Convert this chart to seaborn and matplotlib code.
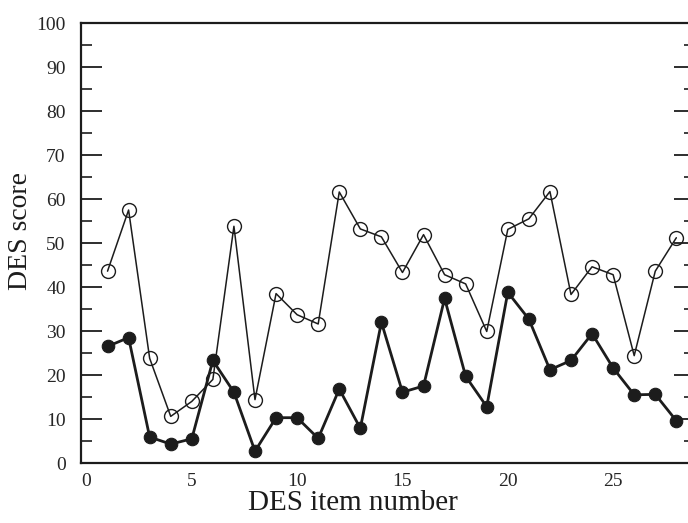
import matplotlib
matplotlib.use('Agg')
import matplotlib.pyplot as plt
import seaborn as sns
import pandas as pd
from matplotlib.ticker import MultipleLocator

# Dados
items = list(range(1, 29))
open_scores = [43.6, 57.5, 23.8, 10.6, 14.0, 19.0, 53.8, 14.4, 38.5, 33.7,
               31.6, 61.6, 53.2, 51.4, 43.3, 51.9, 42.8, 40.7, 29.9, 53.1,
               55.5, 61.7, 38.3, 44.6, 42.8, 24.4, 43.6, 51.2]
filled_scores = [26.5, 28.5, 5.9, 4.3, 5.5, 23.3, 16.1, 2.7, 10.3, 10.3,
                 5.6, 16.8, 7.9, 32.0, 16.1, 17.5, 37.4, 19.7, 12.8, 38.8,
                 32.7, 21.2, 23.3, 29.4, 21.6, 15.5, 15.6, 9.6]

df = pd.DataFrame({'item': items, 'open': open_scores, 'filled': filled_scores})

sns.set_style('white')
plt.rcParams['font.family'] = ['Liberation Serif', 'DejaVu Serif']

ink = '#1c1c1c'
fig = plt.figure(figsize=(6.88, 5.23), dpi=100)
# borda direita fica fora da imagem, como no original recortado
ax = fig.add_axes([0.1177, 0.1147, 0.8926, 0.8413])

sns.lineplot(data=df, x='item', y='open', ax=ax, color=ink, linewidth=1.1,
             marker='o', markersize=10, markerfacecolor='none',
             markeredgecolor=ink, markeredgewidth=1.0)
sns.lineplot(data=df, x='item', y='filled', ax=ax, color=ink, linewidth=2.0,
             marker='o', markersize=9, markerfacecolor=ink,
             markeredgecolor=ink, markeredgewidth=0.8)

ax.set_xlim(-0.26, 28.89)
ax.set_ylim(0, 100)
ax.yaxis.set_major_locator(MultipleLocator(10))
ax.yaxis.set_minor_locator(MultipleLocator(5))

for side in ['left', 'bottom', 'top', 'right']:
    ax.spines[side].set_color(ink)
    ax.spines[side].set_linewidth(1.6)

ax.tick_params(axis='y', which='major', direction='in', length=15, width=1.3,
               color=ink, labelsize=14, pad=11, right=True, left=True)
ax.tick_params(axis='y', which='minor', direction='in', length=8, width=1.2,
               color=ink, right=True, left=True)
ax.tick_params(axis='x', which='major', direction='in', length=15, width=1.3,
               color=ink, labelsize=14, pad=7)
ax.set_xticks([0, 5, 10, 15, 20, 25])

ax.set_xlabel('DES item number', fontsize=21, color=ink)
ax.set_ylabel('DES score', fontsize=20, color=ink)
ax.xaxis.set_label_coords(0.443, -0.061)
ax.yaxis.set_label_coords(-0.078, 0.527)

fig.savefig('out.png', dpi=100)
